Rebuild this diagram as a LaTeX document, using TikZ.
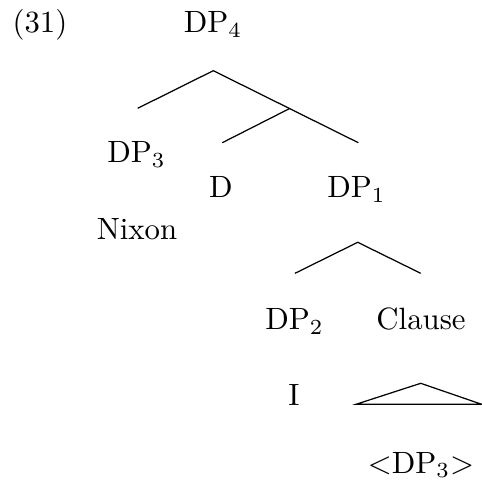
\documentclass[tikz,border=0pt]{standalone}
\begin{document}
\begin{tikzpicture}[x=0.3247pt,y=-0.3247pt,
  lab/.style={inner sep=0pt,anchor=base},
  edge/.style={line width=0.4pt,line join=miter}]
\useasboundingbox (0,0) rectangle (482,479);
% labels
\node[lab,anchor=base west] (ex) at (12,33) {(31)};
\node[lab] (dp4) at (213,33) {DP$_4$};
\node[lab] (dp3) at (136.5,163) {DP$_3$};
\node[lab] (d) at (221,198) {D};
\node[lab] (dp1) at (356.5,198) {DP$_1$};
\node[lab] (nixon) at (137,240) {Nixon};
\node[lab] (dp2) at (294.5,330) {DP$_2$};
\node[lab] (clause) at (421,330) {Clause};
\node[lab] (i) at (294,405) {I};
\node[lab] (dp3t) at (421,473) {$<$DP$_3$$>$};
% branch points
\coordinate (a4) at (213.3,70.7);
\coordinate (l4) at (137.7,108.3);
\coordinate (m4) at (289.3,108.7);
\coordinate (r4) at (358.3,142.7);
\coordinate (dd) at (222.3,142.7);
\coordinate (a1) at (357.7,242.3);
\coordinate (l1) at (295,273.3);
\coordinate (r1) at (420.7,273.3);
\coordinate (ta) at (420.7,383.3);
\coordinate (tl) at (356,404.3);
\coordinate (tr) at (481.7,404.3);
% edges
\draw[edge] (l4) -- (a4) -- (r4);
\draw[edge] (m4) -- (dd);
\draw[edge] (l1) -- (a1) -- (r1);
\draw[edge] (ta) -- (tl) -- (tr) -- cycle;
\end{tikzpicture}
\end{document}
